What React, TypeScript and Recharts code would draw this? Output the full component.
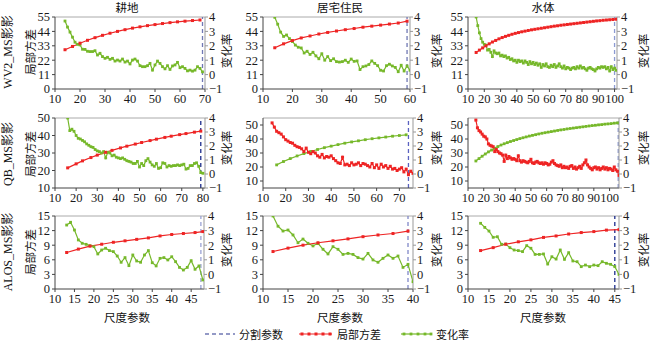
import React from 'react';
import { ComposedChart, Line, XAxis, YAxis, ReferenceLine } from 'recharts';

// ---------- DATA ----------
// Row 1: WV2_MS
const p1RedX = [14, 17, 20, 23, 26, 29, 32, 35, 38, 41, 44, 47, 50, 53, 56, 59, 62, 65, 68];
const p1RedY = [30, 32.5, 35, 37.2, 39.2, 41, 42.6, 44, 45.3, 46.5, 47.5, 48.4, 49.2, 50, 50.7, 51.3, 51.8, 52.3, 52.7];
const p1GreenStart = 14;
const p1GreenY = [3.72, 3.3, 2.95, 2.6, 2.25, 2.1, 2.06, 1.76, 1.75, 1.62, 1.6, 1.6, 1.66, 1.36, 1.48, 1.25, 1.13, 1.2, 1.06, 1.13, 0.94, 1.01, 0.94, 1.08, 0.87, 0.94, 0.74, 1.01, 1.08, 0.94, 0.62, 0.55, 0.55, 0.62, 0.78, 0.31, 0.67, 0.94, 0.78, 0.55, 0.4, 0.62, 0.36, 0.6, 0.67, 0.85, 0.48, 0.55, 0.43, 0.26, 0.31, 0.24, 0.31, 0.55, 0.43, 0.19];

const p2RedX = [14, 17, 20, 23, 26, 29, 32, 35, 38, 41, 44, 47, 50, 53, 56, 59];
const p2RedY = [31.5, 34.5, 37, 39, 40.5, 42, 43.2, 44.3, 45.3, 46.2, 47.2, 48, 48.8, 49.6, 50.4, 51.8];
const p2GreenStart = 14;
const p2GreenY = [3.98, 3.5, 2.95, 2.65, 2.75, 2.5, 2.3, 2.05, 1.9, 1.85, 1.5, 1.62, 1.4, 1.55, 1.3, 1.1, 1.45, 1.0, 1.25, 0.97, 1.1, 0.9, 0.87, 0.9, 1.0, 0.85, 1.08, 0.92, 0.95, 0.35, 0.55, 0.6, 0.7, 0.95, 0.78, 0.62, 0.3, 0.25, 0.62, 0.72, 0.6, 0.5, 0.2, 0.65, 0.25, 0.6, 0.3];

const p3RedX = [15, 17, 19, 21, 23, 25, 27, 29, 31, 33, 35, 37, 39, 41, 43, 45, 47, 49, 51, 53, 55, 57, 59, 61, 63, 65, 67, 69, 71, 73, 75, 77, 79, 81, 83, 85, 87, 89, 91, 93, 95, 97, 99, 101];
const p3RedY = [27.9, 29.7, 31.4, 33, 34.5, 35.9, 37.1, 38.3, 39.3, 40.2, 41, 41.8, 42.5, 43.1, 43.7, 44.2, 44.7, 45.2, 45.6, 46, 46.4, 46.8, 47.2, 47.6, 48, 48.3, 48.7, 49, 49.3, 49.6, 49.9, 50.2, 50.5, 50.8, 51.1, 51.4, 51.7, 52, 52.2, 52.5, 52.7, 52.9, 53.1, 53.3];
const p3GreenStart = 15;
const p3GreenY = [4.0, 3.4, 2.9, 2.5, 2.25, 2.1, 2.05, 1.7, 1.75, 1.55, 1.25, 1.65, 1.5, 1.45, 1.5, 1.3, 1.35, 1.25, 1.3, 1.15, 1.2, 1.05, 1.1, 0.95, 1.0, 0.85, 1.0, 0.9, 0.95, 0.8, 0.95, 0.85, 0.7, 0.9, 0.75, 0.85, 0.7, 0.8, 0.65, 0.75, 0.5, 0.7, 0.6, 0.75, 0.55, 0.5, 0.65, 0.55, 0.7, 0.5, 0.6, 0.75, 0.55, 0.45, 0.6, 0.4, 0.5, 0.45, 0.35, 0.45, 0.5, 0.4, 0.55, 0.45, 0.6, 0.45, 0.5, 0.4, 0.3, 0.45, 0.5, 0.4, 0.35, 0.25, 0.4, 0.5, 0.45, 0.55, 0.5, 0.55, 0.4, 0.5, 0.25, 0.55, 0.35, 0.45, 0.3];

// Row 2: QB_MS
const p4RedX = [16, 20, 23, 27, 30, 34, 37, 41, 44, 48, 51, 55, 58, 62, 65, 69, 72, 76, 79];
const p4RedY = [21.5, 23.8, 25.5, 27.4, 28.8, 30.4, 31.5, 32.9, 33.9, 35.1, 36, 37.1, 37.9, 38.9, 39.6, 40.5, 41.1, 41.9, 42.5];
const p4GreenStart = 16;
const p4GreenY = [4.0, 3.1, 3.2, 3.05, 2.75, 2.55, 2.5, 2.4, 2.3, 2.15, 2.05, 1.95, 1.9, 1.75, 1.65, 1.6, 1.5, 1.6, 1.15, 1.55, 1.5, 1.3, 1.35, 1.2, 1.15, 1.1, 1.15, 1.05, 0.95, 0.9, 0.85, 0.75, 0.75, 0.9, 0.5, 0.75, 0.6, 0.95, 1.1, 0.85, 0.65, 0.55, 0.75, 0.4, 0.45, 0.8, 0.75, 0.5, 0.6, 0.55, 0.6, 0.6, 0.65, 0.6, 0.65, 0.7, 0.35, 0.4, 0.6, 0.6, 0.75, 0.8, 0.55, 0.1, 0.05];

const p5RedStart = 14;
const p5RedY = [51.5, 48.5, 45.5, 44.5, 43.5, 41.5, 39.5, 38.5, 37.5, 37, 35.5, 34.5, 34, 33, 31, 33.5, 30.5, 29.5, 31, 30, 28, 27, 29, 26.5, 27.5, 27, 28, 26, 24.5, 23, 22.5, 27, 21.5, 22, 21, 23, 21.5, 22, 23, 21, 22.5, 22, 21, 20, 22.5, 19.5, 21.5, 19, 22, 20, 21, 19, 20.5, 18.5, 19, 17.5, 18.5, 19.5, 16.5, 18.5, 14.5, 17, 15.5];
const p5GreenX = [16, 19, 22, 25, 28, 31, 34, 37, 40, 43, 46, 49, 52, 55, 58, 61, 64, 67, 70, 73];
const p5GreenY = [21.5, 23.9, 26, 27.9, 29.6, 31.1, 32.5, 33.8, 34.9, 36, 37, 37.9, 38.7, 39.5, 40.2, 40.8, 41.4, 42, 42.5, 43];

const p6RedStart = 15;
const p6RedY = [53.5, 48, 46, 45, 43.5, 42, 41.5, 40, 36.5, 35.5, 35, 34.5, 31, 32.5, 31, 30, 29.5, 28.5, 24, 28.5, 26, 27.5, 26.5, 25.5, 26, 25.5, 24.5, 28, 24.5, 23.5, 24.5, 24, 23.5, 23, 24, 25.5, 23, 22.5, 23.5, 24, 23, 22.5, 23, 22, 23, 22.5, 21.5, 22, 23.5, 24.5, 22.5, 21.5, 21, 20.5, 21.5, 19.5, 20.5, 19.5, 20, 19, 20.5, 21, 19, 20, 18.5, 19.5, 20.5, 19, 21.5, 23, 25, 21.5, 20, 19, 18, 19.5, 20, 18.5, 19.5, 18, 19, 20, 18.5, 19.5, 18, 19, 18.5, 17.5, 20, 18, 17, 14];
const p6GreenX = [15, 17, 19, 21, 23, 25, 27, 29, 31, 33, 35, 37, 39, 41, 43, 45, 47, 49, 51, 53, 55, 57, 59, 61, 63, 65, 67, 69, 71, 73, 75, 77, 79, 81, 83, 85, 87, 89, 91, 93, 95, 97, 99, 101, 103, 105];
const p6GreenY = [24.3, 26, 27.7, 29.3, 30.8, 32.1, 33.4, 34.6, 35.7, 36.6, 37.4, 38.2, 38.9, 39.6, 40.3, 40.9, 41.5, 42.1, 42.6, 43.1, 43.6, 44.1, 44.5, 44.9, 45.3, 45.7, 46.1, 46.5, 46.8, 47.2, 47.5, 47.8, 48.1, 48.4, 48.7, 49, 49.3, 49.6, 49.8, 50.1, 50.3, 50.6, 50.8, 51, 51.3, 51.5];

// Row 3: ALOS_MS
const p7RedX = [13, 16, 19, 22, 25, 28, 31, 34, 37, 40, 43, 46, 48];
const p7RedY = [7.5, 8.2, 8.8, 9.2, 9.6, 9.9, 10.2, 10.5, 10.9, 11.2, 11.4, 11.6, 11.8];
const p7GreenStart = 13;
const p7GreenY = [3.38, 3.57, 3.04, 2.36, 2.13, 2.06, 1.97, 1.9, 1.4, 1.67, 1.79, 1.63, 1.56, 1.26, 0.83, 1.15, 0.6, 1.33, 0.92, 0.83, 1.33, 1.63, 0.8, 0.58, 1.1, 1.15, 0.99, 1.21, 0.87, 0.48, 0.3, 0.48, 0.94, 0.35, 0.58, -0.38];

const p8RedX = [12, 15, 18, 21, 24, 27, 30, 33, 36, 39];
const p8RedY = [7.7, 8.4, 9.0, 9.5, 9.9, 10.3, 10.75, 11.1, 11.4, 11.9];
const p8GreenStart = 12;
const p8GreenY = [4.0, 3.3, 2.97, 3.04, 2.7, 2.17, 2.42, 2.13, 1.95, 2.13, 1.72, 1.4, 1.9, 1.72, 1.37, 1.44, 1.37, 1.15, 1.05, 1.44, 0.99, 0.83, 1.1, 1.33, 1.1, 1.26, 0.48, 0.69, -0.5];

const p9RedX = [13, 16, 19, 22, 25, 28, 31, 34, 37, 40, 43, 46];
const p9RedY = [7.9, 8.5, 9.2, 9.7, 10.1, 10.6, 10.9, 11.3, 11.6, 11.8, 12.1, 12.2];
const p9GreenStart = 13;
const p9GreenY = [3.5, 3.22, 2.97, 2.54, 2.58, 2.06, 2.08, 1.83, 1.67, 1.63, 1.56, 1.97, 1.79, 1.37, 1.37, 1.4, 0.71, 1.21, 1.05, 1.67, 1.03, 1.49, 0.92, 0.87, 0.53, 0.64, 0.53, 0.64, 0.6, 0.87, 0.76, 0.69, 0.53, 0.0];

// Split parameters (dashed lines)
const splitParams = [69, 59, 100, 79, 74, 105.5, 47.5, 39, 45];

// Labels
const columnTitles = ['耕地', '居宅住民', '水体'];
const rowLabels = ['WV2_MS影影', 'QB_MS影影', 'ALOS_MS影影'];
const leftAxisTitle = '局部方差';
const rightAxisTitle = '变化率';
const xAxisTitle = '尺度参数';
const legendLabels = ['分割参数', '局部方差', '变化率'];

// Tick lists
const xTicks10to70 = [10, 20, 30, 40, 50, 60, 70];
const xTicks10to60 = [10, 20, 30, 40, 50, 60];
const xTicks10to100 = [10, 20, 30, 40, 50, 60, 70, 80, 90, 100];
const xTicks10to80 = [10, 20, 30, 40, 50, 60, 70, 80];
const xTicks10to70b = [10, 20, 30, 40, 50, 60, 70];
const xTicks5to45 = [10, 15, 20, 25, 30, 35, 40, 45];
const xTicks5to40 = [10, 15, 20, 25, 30, 35, 40];
const yTicksWV2 = [0, 11, 22, 33, 44, 55];
const yTicksQB = [10, 20, 30, 40, 50];
const yTicksALOS = [0, 3, 6, 9, 12, 15];
const rightTicks = [-1, 0, 1, 2, 3, 4];

// ---------- helpers ----------
const pairs = (xs: number[], ys: number[]) => ys.map((y, i) => ({ x: xs[i], y }));
const seq = (start: number, ys: number[]) => ys.map((y, i) => ({ x: start + i, y }));

const RED = '#ee2424';
const GREEN = '#76b82a';
const NUM_FONT = '"Liberation Serif", "Times New Roman", "Noto Sans CJK SC", serif';
const CJK_FONT = '"Noto Sans CJK SC", "Liberation Serif", sans-serif';

const squareDot = (color: string, s: number) => (props: any) => {
  const { cx, cy, index } = props;
  if (cx == null || cy == null) return <g key={index} />;
  return <rect key={index} x={cx - s / 2} y={cy - s / 2} width={s} height={s} fill={color} />;
};

type PanelCfg = {
  left: number; right: number; top: number; bottom: number;
  xDomain: [number, number]; xTicks: number[];
  lDomain: [number, number]; lTicks: number[];
  red: { x: number; y: number }[]; redAxis: 'l' | 'r';
  green: { x: number; y: number }[]; greenAxis: 'l' | 'r';
  split: number; splitColor: string;
};

const panels: PanelCfg[] = [
  { left: 55, right: 205, top: 17, bottom: 89, xDomain: [10, 70], xTicks: xTicks10to70, lDomain: [0, 55], lTicks: yTicksWV2,
    red: pairs(p1RedX, p1RedY), redAxis: 'l', green: seq(p1GreenStart, p1GreenY), greenAxis: 'r', split: splitParams[0], splitColor: '#7078b4' },
  { left: 263, right: 410, top: 17, bottom: 89, xDomain: [10, 60], xTicks: xTicks10to60, lDomain: [0, 55], lTicks: yTicksWV2,
    red: pairs(p2RedX, p2RedY), redAxis: 'l', green: seq(p2GreenStart, p2GreenY), greenAxis: 'r', split: splitParams[1], splitColor: '#7078b4' },
  { left: 468, right: 617, top: 17, bottom: 89, xDomain: [10, 101.5], xTicks: xTicks10to100, lDomain: [0, 55], lTicks: yTicksWV2,
    red: pairs(p3RedX, p3RedY), redAxis: 'l', green: seq(p3GreenStart, p3GreenY), greenAxis: 'r', split: splitParams[2], splitColor: '#8c9ad2' },
  { left: 55, right: 205, top: 118, bottom: 188, xDomain: [10, 81], xTicks: xTicks10to80, lDomain: [10, 50], lTicks: yTicksQB,
    red: pairs(p4RedX, p4RedY), redAxis: 'l', green: seq(p4GreenStart, p4GreenY), greenAxis: 'r', split: splitParams[3], splitColor: '#1c2c8c' },
  { left: 263, right: 413, top: 118, bottom: 188, xDomain: [10, 76], xTicks: xTicks10to70b, lDomain: [5, 55], lTicks: yTicksQB,
    red: seq(p5RedStart, p5RedY), redAxis: 'l', green: pairs(p5GreenX, p5GreenY), greenAxis: 'l', split: splitParams[4], splitColor: '#5a62c0' },
  { left: 468, right: 619, top: 118, bottom: 188, xDomain: [10, 106], xTicks: xTicks10to100, lDomain: [5, 55], lTicks: yTicksQB,
    red: seq(p6RedStart, p6RedY), redAxis: 'l', green: pairs(p6GreenX, p6GreenY), greenAxis: 'l', split: splitParams[5], splitColor: '#8c9ad2' },
  { left: 55, right: 204, top: 216, bottom: 289, xDomain: [10, 48.3], xTicks: xTicks5to45, lDomain: [0, 15], lTicks: yTicksALOS,
    red: pairs(p7RedX, p7RedY), redAxis: 'l', green: seq(p7GreenStart, p7GreenY), greenAxis: 'r', split: splitParams[6], splitColor: '#9aa2d4' },
  { left: 263, right: 413, top: 216, bottom: 289, xDomain: [10, 40], xTicks: xTicks5to40, lDomain: [0, 15], lTicks: yTicksALOS,
    red: pairs(p8RedX, p8RedY), redAxis: 'l', green: seq(p8GreenStart, p8GreenY), greenAxis: 'r', split: splitParams[7], splitColor: '#8088c8' },
  { left: 468, right: 619, top: 216, bottom: 289, xDomain: [10, 46], xTicks: xTicks5to45, lDomain: [0, 15], lTicks: yTicksALOS,
    red: pairs(p9RedX, p9RedY), redAxis: 'l', green: seq(p9GreenStart, p9GreenY), greenAxis: 'r', split: splitParams[8], splitColor: '#1c2c8c' },
];

const AXW = 34;
const TOPPAD = 10;
const XH = 24;
const tickStyle = { fontSize: 12.5, fill: '#1a1a1a', fontFamily: NUM_FONT };
const fmt = (v: number) => (v < 0 ? '\u2212' + Math.abs(v) : String(v));

function Panel({ c }: { c: PanelCfg }) {
  const w = c.right - c.left;
  const h = c.bottom - c.top;
  return (
    <div style={{ position: 'absolute', left: c.left - AXW, top: c.top - TOPPAD }}>
      <ComposedChart width={w + 2 * AXW} height={h + TOPPAD + XH} margin={{ top: TOPPAD, right: 0, bottom: 0, left: 0 }}>
        <XAxis dataKey="x" type="number" domain={c.xDomain} ticks={c.xTicks} interval={0} allowDataOverflow
          height={XH} tick={tickStyle} tickSize={3} tickMargin={2} stroke="#444" tickFormatter={fmt} />
        <YAxis yAxisId="l" domain={c.lDomain} ticks={c.lTicks} interval={0} allowDataOverflow width={AXW}
          tick={tickStyle} tickSize={3} tickMargin={2} stroke="#444" tickFormatter={fmt} />
        <YAxis yAxisId="r" orientation="right" domain={[-1, 4]} ticks={rightTicks} interval={0} allowDataOverflow width={AXW}
          tick={tickStyle} tickSize={3} tickMargin={1} stroke="#999" tickFormatter={fmt} />
        <ReferenceLine yAxisId="l" y={c.lDomain[1]} stroke="#aaa" strokeWidth={1} ifOverflow="visible" />
        <ReferenceLine yAxisId="l" x={c.split} stroke={c.splitColor} strokeWidth={1.3} strokeDasharray="4 3" />
        <Line yAxisId={c.greenAxis} data={c.green} dataKey="y" stroke={GREEN} strokeWidth={1.2}
          dot={squareDot(GREEN, 2.8)} activeDot={false} isAnimationActive={false} />
        <Line yAxisId={c.redAxis} data={c.red} dataKey="y" stroke={RED} strokeWidth={1.2}
          dot={squareDot(RED, 3)} activeDot={false} isAnimationActive={false} />
      </ComposedChart>
    </div>
  );
}

const colCenters = [127, 340, 543];
const rowCenters = [52, 154, 252];
const rightLabelX = [226, 436, 643];
const rightLabelY = [51, 148, 250];
const LEG_Y = 334;

export default function App() {
  return (
    <div style={{ position: 'absolute', left: 0, top: 0, width: 650, height: 343, background: '#fff', overflow: 'hidden' }}>
      {panels.map((c, i) => <Panel key={i} c={c} />)}
      <svg width={650} height={343} style={{ position: 'absolute', left: 0, top: 0, pointerEvents: 'none' }}>
        {columnTitles.map((t, i) => (
          <text key={'t' + i} x={colCenters[i]} y={7} textAnchor="middle" dominantBaseline="central"
            fontFamily={CJK_FONT} fontSize={11.5} fill="#111">{t}</text>
        ))}
        {rowLabels.map((t, i) => (
          <g key={'r' + i}>
            <text x={0} y={0} transform={`translate(8, ${rowCenters[i]}) rotate(-90)`} textAnchor="middle"
              dominantBaseline="central" fontFamily={NUM_FONT} fontSize={12} fill="#111">{t}</text>
            <text x={0} y={0} transform={`translate(30, ${rowCenters[i]}) rotate(-90)`} textAnchor="middle"
              dominantBaseline="central" fontFamily={CJK_FONT} fontSize={11.5} fill="#111">{leftAxisTitle}</text>
          </g>
        ))}
        {rightLabelY.map((y, r) => rightLabelX.map((x, ci) => (
          <text key={'rl' + r + ci} x={0} y={0} transform={`translate(${x}, ${y}) rotate(-90)`} textAnchor="middle"
            dominantBaseline="central" fontFamily={CJK_FONT} fontSize={11.5} fill="#111">{rightAxisTitle}</text>
        )))}
        {colCenters.map((x, i) => (
          <text key={'x' + i} x={x} y={317} textAnchor="middle" dominantBaseline="central"
            fontFamily={CJK_FONT} fontSize={11.5} fill="#111">{xAxisTitle}</text>
        ))}
        {/* legend */}
        <line x1={205} y1={LEG_Y} x2={235} y2={LEG_Y} stroke="#7078b4" strokeWidth={1.3} strokeDasharray="4 3" />
        <text x={239} y={LEG_Y} dominantBaseline="central" fontFamily={CJK_FONT} fontSize={11} fill="#111">{legendLabels[0]}</text>
        <line x1={299} y1={LEG_Y} x2={332} y2={LEG_Y} stroke={RED} strokeWidth={1.2} />
        {[302, 309, 316, 323, 330].map((x) => <rect key={'lr' + x} x={x - 1.5} y={LEG_Y - 1.5} width={3} height={3} fill={RED} />)}
        <text x={337} y={LEG_Y} dominantBaseline="central" fontFamily={CJK_FONT} fontSize={11} fill="#111">{legendLabels[1]}</text>
        <line x1={401} y1={LEG_Y} x2={432} y2={LEG_Y} stroke={GREEN} strokeWidth={1.2} />
        {[404, 411, 418, 425, 431].map((x) => <rect key={'lg' + x} x={x - 1.4} y={LEG_Y - 1.4} width={2.8} height={2.8} fill={GREEN} />)}
        <text x={436} y={LEG_Y} dominantBaseline="central" fontFamily={CJK_FONT} fontSize={11} fill="#111">{legendLabels[2]}</text>
      </svg>
    </div>
  );
}
